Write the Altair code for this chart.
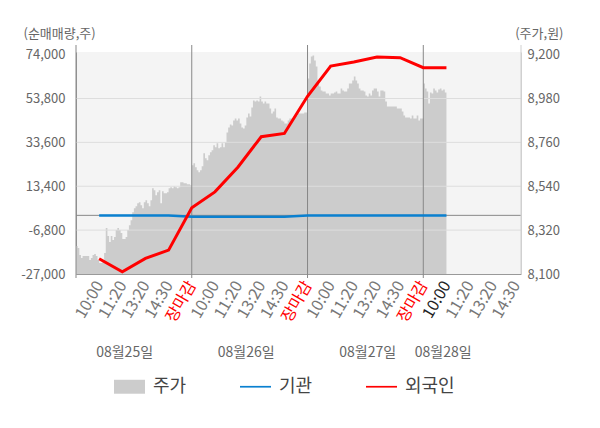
import json
import altair as alt
import pandas as pd

# ---------------- data ----------------
# intraday price (주가, 원), sampled evenly through each trading day
price_day1 = [8240, 8230, 8195, 8180, 8190, 8190, 8190, 8190, 8170, 8180, 8195, 8200, 8190, 8170, 8155,
              8155, 8170, 8205, 8330, 8290, 8260, 8290, 8270, 8285, 8320, 8330, 8320, 8305, 8275, 8275,
              8285, 8320, 8345, 8370, 8410, 8430, 8440, 8455, 8460, 8445, 8430, 8460, 8470, 8455, 8440,
              8470, 8530, 8520, 8495, 8510, 8520, 8455, 8515, 8505, 8505, 8510, 8530, 8535, 8530, 8540,
              8535, 8530, 8535, 8560, 8560, 8555, 8555, 8550, 8550, 8545, 8545]
price_day2 = [8645, 8655, 8635, 8620, 8610, 8620, 8640, 8705, 8680, 8670, 8695, 8710, 8720, 8745, 8735,
              8755, 8730, 8735, 8755, 8735, 8760, 8810, 8835, 8850, 8845, 8870, 8880, 8870, 8880, 8855,
              8835, 8830, 8845, 8885, 8905, 8890, 8935, 8970, 8965, 8970, 8965, 8990, 8965, 8955, 8965,
              8955, 8955, 8930, 8905, 8915, 8930, 8885, 8880, 8880, 8870, 8865, 8855, 8855, 8870, 8880,
              8880, 8880, 8885, 8895, 8905, 8905, 8905, 8905, 8910, 8910]
price_day3 = [9080, 9155, 9190, 9195, 9170, 9140, 9070, 9040, 9020, 9015, 9015, 9005, 9005, 8995, 9005,
              9005, 9010, 9015, 9005, 9005, 9030, 9020, 9015, 9015, 9030, 9055, 9055, 9070, 9090, 9070,
              9055, 9030, 9020, 9020, 9015, 8995, 8990, 9005, 8995, 9020, 9030, 9030, 9015, 8990, 9020,
              9020, 9015, 8965, 8940, 8940, 8940, 8940, 8940, 8940, 8930, 8930, 8930, 8915, 8895, 8885,
              8885, 8885, 8880, 8895, 8880, 8880, 8895, 8870, 8880, 8880]
price_day4 = [9055, 9030, 9015, 8955, 9010, 9005, 9030, 9020, 9010, 9025, 9030, 9020, 9025, 9010, 9010]
price_days = [price_day1, price_day2, price_day3, price_day4]
samples_per_day = 70

# time-slot labels (x positions 1..19)
slot_labels = ["10:00", "11:20", "13:20", "14:30", "장마감",
               "10:00", "11:20", "13:20", "14:30", "장마감",
               "10:00", "11:20", "13:20", "14:30", "장마감",
               "10:00", "11:20", "13:20", "14:30"]
day_boundaries = [0, 5, 10, 15]
date_labels = ["08월25일", "08월26일", "08월27일", "08월28일"]
date_pos = [2.1, 7.35, 12.6, 15.86]

# net buying (순매매량, 주) at slots 1..16
inst_net = [-100, -100, -100, -100, -600, -600, -600, -600, -600,
            -100, -100, -100, -100, -100, -100, -100]
foreign_net = [-20000, -26000, -19800, -16000, 3500, 10800, 22300, 36200, 37700,
               54800, 68700, 70600, 72900, 72600, 68000, 68000]

left_ticks = [-27000, -6800, 13400, 33600, 53800, 74000]
right_ticks = [8100, 8320, 8540, 8760, 8980, 9200]
grid_ticks = [-6800, 13400, 33600, 53800]

series_names = ["주가", "기관", "외국인"]
series_colors = ["#cccccc", "#0a80d0", "#ff0000"]

# ---------------- tables ----------------
price_rows = []
for d, arr in enumerate(price_days):
    for i, v in enumerate(arr):
        price_rows.append({"x": 5 * d + i * 5 / samples_per_day, "price": v})
price_df = pd.DataFrame(price_rows)

net_df = pd.DataFrame({
    "slot": list(range(1, len(foreign_net) + 1)),
    "inst": inst_net,
    "foreign": foreign_net,
})
grid_df = pd.DataFrame({"v": grid_ticks})
zero_df = pd.DataFrame({"v": [0]})
vline_df = pd.DataFrame({"x": day_boundaries})
date_df = pd.DataFrame({"pos": date_pos, "label": date_labels})
legend_df = pd.DataFrame({"series": series_names})

W, H = 445, 222
FONT = "Noto Sans CJK KR"

label_expr = json.dumps([""] + slot_labels, ensure_ascii=False) + "[datum.value]"
color_expr = ("indexof([5,10,15], datum.value) >= 0 ? '#ff0000' : "
              "(datum.value == 16 ? '#222222' : '#777777')")
num_expr = "replace(format(datum.value, ',d'), '\u2212', '-')"

x_scale = alt.Scale(domain=[0, 19.22], nice=False, zero=False)
x_axis = alt.Axis(values=list(range(1, len(slot_labels) + 1)), labelExpr=label_expr,
                  labelAngle=300, labelAlign="right", labelBaseline="middle",
                  labelColor={"expr": color_expr}, labelFontSize=16, labelPadding=8,
                  ticks=False, grid=False, domainColor="#999999", title=None,
                  labelOverlap=False)

left_scale = alt.Scale(domain=[-27000, 75200], nice=False, zero=False)
left_axis = alt.Axis(values=left_ticks, labelExpr=num_expr, grid=False, ticks=False,
                     labelColor="#666666", labelFontSize=13, labelPadding=11,
                     domainColor="#999999", title="(순매매량,주)", titleAngle=0,
                     titleAlign="left", titleBaseline="middle", titleX=-53, titleY=-19,
                     titleFontSize=13, titleFontWeight="normal", titleColor="#666666")

right_scale = alt.Scale(domain=[8100, 9213], nice=False, zero=False)
right_axis = alt.Axis(orient="right", values=right_ticks, labelExpr=num_expr, grid=False, ticks=False,
                      labelColor="#666666", labelFontSize=13, labelPadding=6,
                      domainColor="#d0d0d0", title="(주가,원)", titleAngle=0,
                      titleAlign="right", titleBaseline="middle", titleX=42, titleY=-19,
                      titleFontSize=13, titleFontWeight="normal", titleColor="#666666")


def X(field):
    return alt.X(field, type="quantitative", scale=x_scale, axis=x_axis)


def YL(field):
    return alt.Y(field, type="quantitative", scale=left_scale, axis=left_axis)


area = alt.Chart(price_df).mark_area(color="#cccccc", interpolate="step-after").encode(
    x=X("x"),
    y=alt.Y("price", type="quantitative", scale=right_scale, axis=right_axis, stack=False),
    y2=alt.value(H),
)

grid = alt.Chart(grid_df).mark_rule(color="#dddddd", strokeWidth=1).encode(y=YL("v"))
zero = alt.Chart(zero_df).mark_rule(color="#888888", strokeWidth=1).encode(y=YL("v"))
vlines = alt.Chart(vline_df).mark_rule(color="#888888", strokeWidth=1).encode(
    x=X("x"), y=alt.value(-7), y2=alt.value(H + 4))
right_line = alt.Chart(zero_df).mark_rule(color="#d0d0d0", strokeWidth=1).encode(
    x=alt.value(W), y=alt.value(-7), y2=alt.value(H))

inst_line = alt.Chart(net_df).mark_line(color="#0a80d0", strokeWidth=2.5).encode(
    x=X("slot"), y=YL("inst"))
foreign_line = alt.Chart(net_df).mark_line(color="#ff0000", strokeWidth=3).encode(
    x=X("slot"), y=YL("foreign"))

dates = alt.Chart(date_df).mark_text(fontSize=14, color="#666666", align="center",
                                     baseline="middle", font=FONT).encode(
    x=X("pos"), y=alt.value(301), text="label:N")

legend_props = dict(title=None, orient="none", direction="horizontal",
                    legendX=38, legendY=319, symbolOpacity=1,
                    symbolSize=961, symbolStrokeWidth=0,
                    labelFontSize=18, labelColor="#444444", labelOffset=8,
                    columnPadding=53, labelFont=FONT, padding=0)

legend_pts = alt.Chart(legend_df).mark_point(filled=True, opacity=0).encode(
    x=alt.value(0), y=alt.value(0), size=alt.value(961),
    color=alt.Color("series:N", scale=alt.Scale(domain=series_names, range=series_colors),
                    legend=alt.Legend(**legend_props)),
    shape=alt.Shape("series:N", scale=alt.Scale(
        domain=series_names,
        range=["M-1,-0.45L1,-0.45L1,0.45L-1,0.45Z",
               "M-1,-0.055L1,-0.055L1,0.055L-1,0.055Z",
               "M-1,-0.055L1,-0.055L1,0.055L-1,0.055Z"]),
        legend=alt.Legend(**legend_props)),
)

left_layer = alt.layer(grid, zero, vlines, right_line, inst_line, foreign_line, dates, legend_pts)

chart = alt.layer(area, left_layer).resolve_scale(y="independent").properties(
    width=W, height=H,
    autosize=alt.AutoSizeParams(type="none"),
    padding={"left": 68, "top": 44, "right": 65, "bottom": 130},
).configure(font=FONT).configure_view(fill="#f4f4f4", stroke=None)

chart.save("out.html", embed_options={"renderer": "svg", "actions": False})
